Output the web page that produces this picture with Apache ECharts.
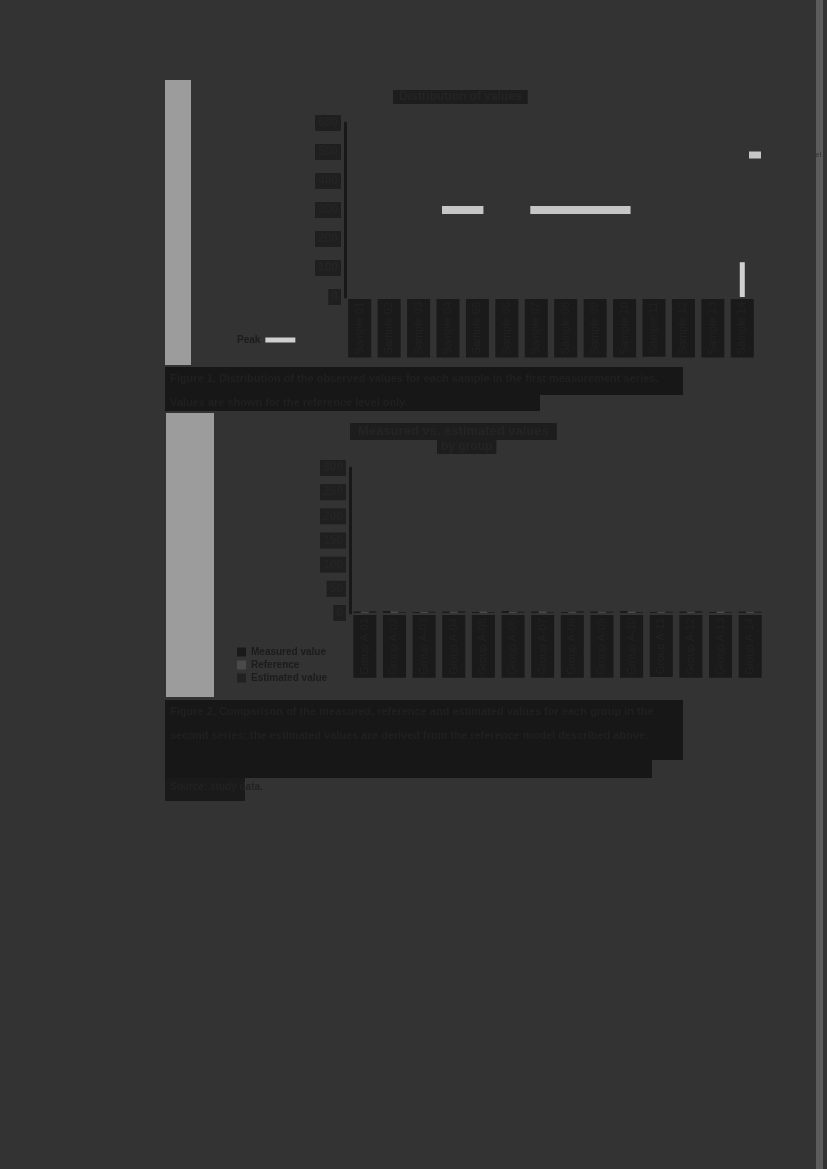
<!DOCTYPE html>
<html>
<head>
<meta charset="utf-8">
<script src="https://cdn.jsdelivr.net/npm/echarts@6/dist/echarts.min.js"></script>
<style>
html,body{margin:0;padding:0;background:#333333;}
#c{width:827px;height:1169px;}
</style>
</head>
<body>
<div id="c"></div>
<script>
// ---- data ----
const categories1 = ['Sample 01','Sample 02','Sample 03','Sample 04','Sample 05','Sample 06','Sample 07','Sample 08','Sample 09','Sample 10','Sample 11','Sample 12','Sample 13','Sample 14'];
const yTicks1 = [0, 100, 200, 300, 400, 500, 600];
const levelSeries1 = [null, null, null, 300, 300, null, 300, 300, 300, 300, null, null, null, null];
const peakSeries1 = [null, null, null, null, null, null, null, null, null, null, null, null, null, 120];

const categories2 = ['Group A-01','Group A-02','Group A-03','Group A-04','Group A-05','Group A-06','Group A-07','Group A-08','Group A-09','Group A-10','Group A-11','Group A-12','Group A-13','Group A-14'];
const yTicks2 = [0, 50, 100, 150, 200, 250, 300];
const seriesNames2 = ['Measured value', 'Reference', 'Estimated value'];
const seriesA2 = [3, 4, 2, 3, 2, 4, 3, 2, 3, 4, 2, 3, 2, 3];
const seriesB2 = [2, 3, 2, 2, 3, 2, 3, 2, 2, 3, 2, 2, 3, 2];
const seriesC2 = [4, 2, 3, 4, 2, 3, 2, 4, 3, 2, 3, 4, 2, 3];

const title1 = 'Distribution of values';
const title2a = 'Measured vs. estimated values';
const title2b = 'by group';
const caption1a = 'Figure 1. Distribution of the observed values for each sample in the first measurement series.';
const caption1b = 'Values are shown for the reference level only.';
const caption2a = 'Figure 2. Comparison of the measured, reference and estimated values for each group in the';
const caption2b = 'second series; the estimated values are derived from the reference model described above.';
const caption2c = 'Source: study data.';

// ---- chart ----
const chart = echarts.init(document.getElementById('c'), null, {renderer: 'canvas'});

const darkText = '#242424';

function yAxisCfg(ticks, grid) {
  return {
    type: 'value', gridIndex: grid,
    min: ticks[0], max: ticks[ticks.length - 1], interval: ticks[1] - ticks[0],
    axisLine: {show: true, lineStyle: {color: '#181818', width: 3}},
    axisTick: {show: false},
    splitLine: {show: false},
    axisLabel: {color: darkText, fontWeight: 'bold', fontSize: 12, backgroundColor: '#1f1f1f', padding: [2, 3], margin: 4}
  };
}
function xAxisCfg(cats, grid) {
  return {
    type: 'category', gridIndex: grid, data: cats,
    axisLine: {show: false}, axisTick: {show: false},
    axisLabel: {rotate: 90, interval: 0, color: '#222222', fontSize: 11, backgroundColor: '#1a1a1a', padding: [6, 3], margin: 2}
  };
}

chart.setOption({
  backgroundColor: '#333333',
  animation: false,
  title: [
    {text: title1, left: 393, top: 90, padding: [1, 6],
     textStyle: {color: darkText, fontSize: 12, fontWeight: 'bold'}, backgroundColor: '#1d1d1d'},
    {text: title2a, left: 350, top: 423, padding: [2, 8],
     textStyle: {color: darkText, fontSize: 13, fontWeight: 'bold'}, backgroundColor: '#1d1d1d'},
    {text: title2b, left: 437, top: 440, padding: [1, 4],
     textStyle: {color: darkText, fontSize: 12, fontWeight: 'bold'}, backgroundColor: '#1d1d1d'}
  ],
  legend: [
    {data: ['Reference level'], left: 744, top: 146, orient: 'vertical', icon: 'rect',
     itemWidth: 12, itemHeight: 7, textStyle: {color: '#343434', fontSize: 8}},
    {data: ['Peak'], left: 232, top: 330, orient: 'vertical', icon: 'rect', align: 'right',
     itemWidth: 30, itemHeight: 5, textStyle: {color: '#1c1c1c', fontSize: 10, fontWeight: 'bold'}},
    {data: seriesNames2, left: 232, top: 642, orient: 'vertical', icon: 'rect', itemGap: 3,
     itemWidth: 9, itemHeight: 9, textStyle: {color: '#1c1c1c', fontSize: 10, fontWeight: 'bold'}}
  ],
  grid: [
    {left: 345, top: 123, width: 412, height: 174, containLabel: false},
    {left: 350, top: 468, width: 415, height: 145, containLabel: false}
  ],
  xAxis: [xAxisCfg(categories1, 0), xAxisCfg(categories2, 1)],
  yAxis: [yAxisCfg(yTicks1, 0), yAxisCfg(yTicks2, 1)],
  series: [
    {name: 'Reference level', type: 'line', xAxisIndex: 0, yAxisIndex: 0, data: levelSeries1,
     symbol: 'rect', symbolSize: [12, 8], showSymbol: true, connectNulls: false,
     itemStyle: {color: '#c6c6c6'}, lineStyle: {color: '#c6c6c6', width: 8, cap: 'butt'}},
    {name: 'Peak', type: 'bar', xAxisIndex: 0, yAxisIndex: 0, data: peakSeries1, barWidth: 5,
     itemStyle: {color: '#d0d0d0'}},
    {name: seriesNames2[0], type: 'bar', xAxisIndex: 1, yAxisIndex: 1, data: seriesA2, itemStyle: {color: '#1a1a1a'}},
    {name: seriesNames2[1], type: 'bar', xAxisIndex: 1, yAxisIndex: 1, data: seriesB2, itemStyle: {color: '#4a4a4a'}},
    {name: seriesNames2[2], type: 'bar', xAxisIndex: 1, yAxisIndex: 1, data: seriesC2, itemStyle: {color: '#222222'}}
  ],
  graphic: [
    // light panels on the left
    {type: 'rect', shape: {x: 165, y: 80, width: 26, height: 285}, style: {fill: '#9c9c9c'}, z: 0},
    {type: 'rect', shape: {x: 166, y: 413, width: 48, height: 284}, style: {fill: '#9c9c9c'}, z: 0},
    // right page edge
    {type: 'rect', shape: {x: 816, y: 0, width: 7, height: 1169}, style: {fill: '#5c5c5c'}, z: 0},
    // caption blocks
    {type: 'rect', shape: {x: 165, y: 367, width: 518, height: 28}, style: {fill: '#171717'}, z: 0},
    {type: 'rect', shape: {x: 165, y: 395, width: 375, height: 16}, style: {fill: '#171717'}, z: 0},
    {type: 'text', x: 170, y: 373, style: {text: caption1a, fill: '#202020', font: 'bold 11px sans-serif'}, z: 1},
    {type: 'text', x: 170, y: 397, style: {text: caption1b, fill: '#202020', font: 'bold 11px sans-serif'}, z: 1},
    {type: 'rect', shape: {x: 165, y: 700, width: 518, height: 60}, style: {fill: '#171717'}, z: 0},
    {type: 'rect', shape: {x: 165, y: 760, width: 487, height: 18}, style: {fill: '#171717'}, z: 0},
    {type: 'rect', shape: {x: 165, y: 778, width: 80, height: 23}, style: {fill: '#1a1a1a'}, z: 0},
    {type: 'text', x: 170, y: 706, style: {text: caption2a, fill: '#202020', font: 'bold 11px sans-serif'}, z: 1},
    {type: 'text', x: 170, y: 730, style: {text: caption2b, fill: '#202020', font: 'bold 11px sans-serif'}, z: 1},
    {type: 'text', x: 170, y: 782, style: {text: caption2c, fill: '#222222', font: 'bold 10px sans-serif'}, z: 1}
  ]
});
</script>
</body>
</html>
